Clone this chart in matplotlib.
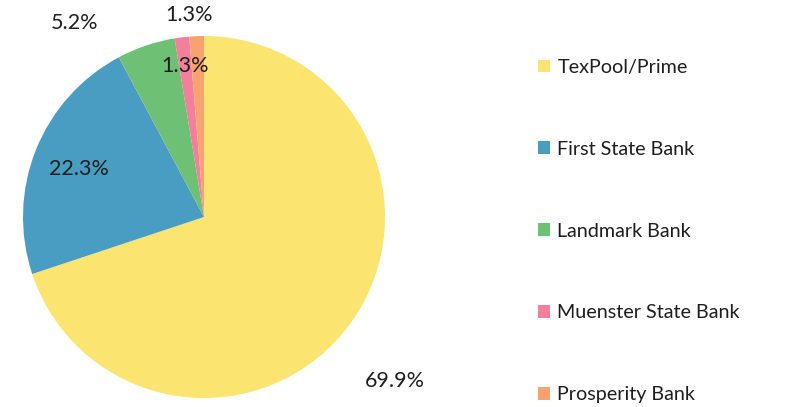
import numpy as np
import matplotlib.pyplot as plt
from matplotlib.patches import Patch

plt.rcParams['font.family'] = ['Lato', 'DejaVu Sans']

# Data
banks = ['TexPool/Prime', 'First State Bank', 'Landmark Bank',
         'Muenster State Bank', 'Prosperity Bank']
shares = [69.9, 22.3, 5.2, 1.3, 1.3]
colors = ['#FBE470', '#4A9DC2', '#6DC074', '#F47F9B', '#F8A26F']

# label placement: radius (fraction of pie radius) and angle shift in degrees
label_r = [1.39, 0.74, 1.29, 0.84, 1.12]
label_shift = [-5, 1, 15, 0, 2]

W, H = 805, 407
cx, cy, R = 204, 217, 181

fig = plt.figure(figsize=(W / 100, H / 100), dpi=100)
ax = fig.add_axes([(cx - R) / W, (H - cy - R) / H, 2 * R / W, 2 * R / H])

wedges, _ = ax.pie(shares, colors=colors, startangle=90, counterclock=False,
                   radius=1, wedgeprops=dict(linewidth=0))
ax.set_xlim(-1, 1)
ax.set_ylim(-1, 1)
ax.set_aspect('equal')
ax.axis('off')

for w, val, r, sh in zip(wedges, shares, label_r, label_shift):
    mid = np.deg2rad((w.theta1 + w.theta2) / 2 + sh)
    ax.text(r * np.cos(mid), r * np.sin(mid), f'{val:.1f}%',
            ha='center', va='center', fontsize=15.5, color='#1e1e1e',
            clip_on=False)

handles = [Patch(facecolor=c, edgecolor='none') for c in colors]
fig.legend(handles, banks, loc='upper left', bbox_to_anchor=(520 / W, 1 - 41 / H),
           frameon=False, fontsize=14.2, labelspacing=3.29,
           handlelength=0.6, handleheight=0.6, handletextpad=0.4,
           labelcolor='#1e1e1e')

fig.savefig('out.png', dpi=100)
